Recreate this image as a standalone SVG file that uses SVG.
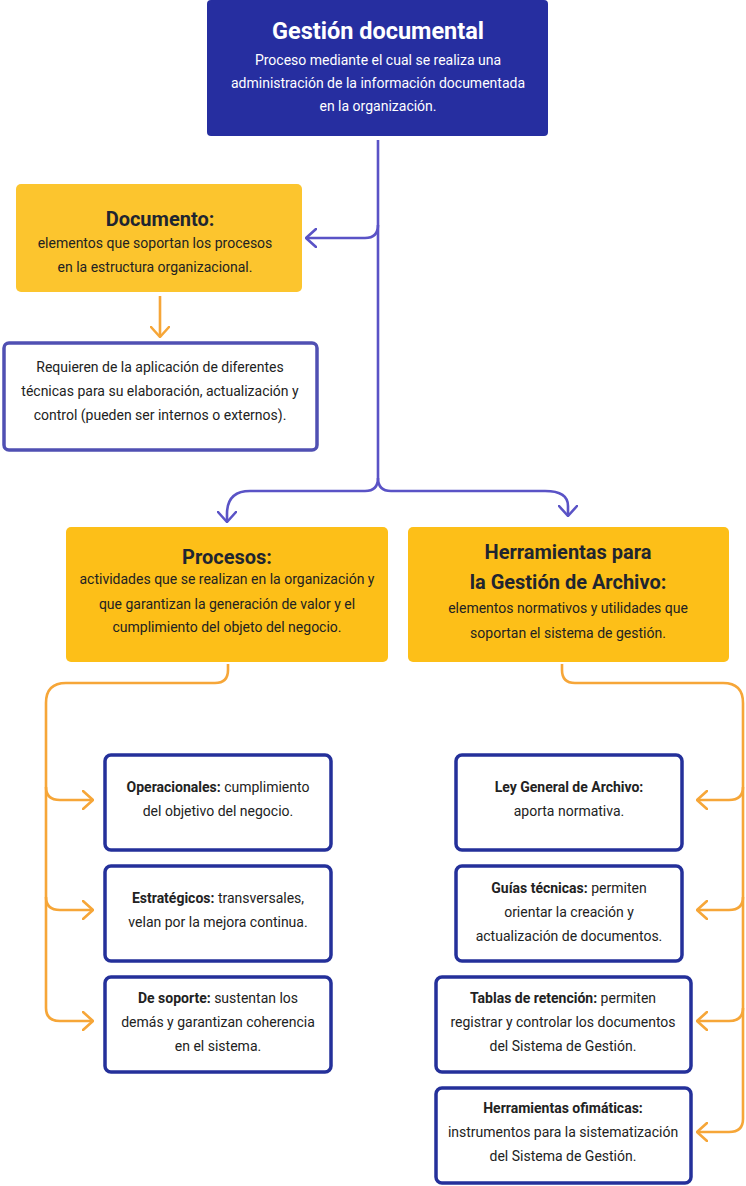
<svg xmlns="http://www.w3.org/2000/svg" width="746" height="1186" viewBox="0 0 746 1186">
<defs>
<marker id="ap" viewBox="0 0 12 20" refX="11" refY="10" markerWidth="12" markerHeight="20" markerUnits="userSpaceOnUse" orient="auto"><path d="M1,1 L11,10 L1,19" fill="none" stroke="#5a53c6" stroke-width="2.6" stroke-linecap="round" stroke-linejoin="round"/></marker>
<marker id="ao" viewBox="0 0 12 20" refX="11" refY="10" markerWidth="12" markerHeight="20" markerUnits="userSpaceOnUse" orient="auto"><path d="M1,1 L11,10 L1,19" fill="none" stroke="#f6a638" stroke-width="2.6" stroke-linecap="round" stroke-linejoin="round"/></marker>
</defs>
<style>
text{font-family:Roboto,"Liberation Sans",sans-serif;text-anchor:middle}
.t{font-size:14px;fill:#222}
.w{font-size:14px;fill:#fff}
.h{font-size:20px;font-weight:bold;fill:#1f2530}
.b{font-weight:bold}
.yel{fill:#fcc52e}
.yel2{fill:#fdbf18}
.box{fill:#fff;stroke:#24309a;stroke-width:3.5}
.cp{fill:none;stroke:#5a53c6;stroke-width:2.6}
.co{fill:none;stroke:#f6a638;stroke-width:2.6}
</style>
<rect width="746" height="1186" fill="#fff"/>
<g id="connectors">
<path class="cp" d="M378,140 V225 Q378,238 365,238 H306" marker-end="url(#ap)"/>
<path class="cp" d="M378,225 V478 Q378,491 365,491 H250 Q227,491 227,514 V522" marker-end="url(#ap)"/>
<path class="cp" d="M378,478 Q378,491 391,491 H545 Q568,491 568,506 V516" marker-end="url(#ap)"/>
<path class="co" d="M160,296 V337" marker-end="url(#ao)"/>
<path class="co" d="M228,664 V670 Q228,683 215,683 H66 Q46,683 46,703 V1008 Q46,1021 60,1021 H93" marker-end="url(#ao)"/>
<path class="co" d="M46,787 Q46,800 60,800 H93" marker-end="url(#ao)"/>
<path class="co" d="M46,897 Q46,910 60,910 H93" marker-end="url(#ao)"/>
<path class="co" d="M562,664 V670 Q562,683 575,683 H723 Q743,683 743,703 V1119 Q743,1132 729,1132 H697" marker-end="url(#ao)"/>
<path class="co" d="M743,787 Q743,800 729,800 H697" marker-end="url(#ao)"/>
<path class="co" d="M743,897 Q743,910 729,910 H697" marker-end="url(#ao)"/>
<path class="co" d="M743,1008 Q743,1021 729,1021 H697" marker-end="url(#ao)"/>
</g>
<g id="gestion">
<rect x="207" y="0" width="341" height="136" rx="4" fill="#262ea0"/>
<text x="378" y="39" style="font-size:23.5px;font-weight:bold;fill:#fff">Gestión documental</text>
<text class="w" x="378" y="65">Proceso mediante el cual se realiza una</text>
<text class="w" x="378" y="88">administración de la información documentada</text>
<text class="w" x="378" y="111">en la organización.</text>
</g>
<g id="documento">
<rect class="yel" x="16" y="184" width="286" height="108" rx="5"/>
<text class="h" x="160" y="226">Documento:</text>
<text class="t" x="155" y="248">elementos que soportan los procesos</text>
<text class="t" x="155" y="272">en la estructura organizacional.</text>
</g>
<g id="requieren">
<rect x="4" y="343" width="313" height="107" rx="5" fill="#fff" stroke="#5050b3" stroke-width="3.5"/>
<text class="t" x="160" y="372">Requieren de la aplicación de diferentes</text>
<text class="t" x="160" y="396">técnicas para su elaboración, actualización y</text>
<text class="t" x="160" y="420">control (pueden ser internos o externos).</text>
</g>
<g id="procesos">
<rect class="yel2" x="66" y="527" width="322" height="135" rx="5"/>
<text class="h" x="227" y="564">Procesos:</text>
<text class="t" x="227" y="584">actividades que se realizan en la organización y</text>
<text class="t" x="227" y="609">que garantizan la generación de valor y el</text>
<text class="t" x="227" y="632">cumplimiento del objeto del negocio.</text>
</g>
<g id="herramientas">
<rect class="yel2" x="408" y="527" width="321" height="135" rx="5"/>
<text class="h" x="568" y="559">Herramientas para</text>
<text class="h" x="568" y="589">la Gestión de Archivo:</text>
<text class="t" x="568" y="613">elementos normativos y utilidades que</text>
<text class="t" x="568" y="638">soportan el sistema de gestión.</text>
</g>
<g id="operacionales">
<rect class="box" x="105" y="755" width="226" height="95" rx="6"/>
<text class="t" x="218" y="792"><tspan class="b">Operacionales:</tspan> cumplimiento</text>
<text class="t" x="218" y="816">del objetivo del negocio.</text>
</g>
<g id="estrategicos">
<rect class="box" x="105" y="866" width="226" height="95" rx="6"/>
<text class="t" x="218" y="903"><tspan class="b">Estratégicos:</tspan> transversales,</text>
<text class="t" x="218" y="927">velan por la mejora continua.</text>
</g>
<g id="soporte">
<rect class="box" x="105" y="977" width="226" height="95" rx="6"/>
<text class="t" x="218" y="1003"><tspan class="b">De soporte:</tspan> sustentan los</text>
<text class="t" x="218" y="1027">demás y garantizan coherencia</text>
<text class="t" x="218" y="1051">en el sistema.</text>
</g>
<g id="ley">
<rect class="box" x="456" y="755" width="226" height="95" rx="6"/>
<text class="t" x="569" y="792"><tspan class="b">Ley General de Archivo:</tspan></text>
<text class="t" x="569" y="816">aporta normativa.</text>
</g>
<g id="guias">
<rect class="box" x="456" y="866" width="226" height="95" rx="6"/>
<text class="t" x="569" y="893"><tspan class="b">Guías técnicas:</tspan> permiten</text>
<text class="t" x="569" y="917">orientar la creación y</text>
<text class="t" x="569" y="941">actualización de documentos.</text>
</g>
<g id="tablas">
<rect class="box" x="436" y="977" width="255" height="95" rx="6"/>
<text class="t" x="563" y="1003"><tspan class="b">Tablas de retención:</tspan> permiten</text>
<text class="t" x="563" y="1027">registrar y controlar los documentos</text>
<text class="t" x="563" y="1051">del Sistema de Gestión.</text>
</g>
<g id="ofimaticas">
<rect class="box" x="436" y="1088" width="255" height="95" rx="6"/>
<text class="t" x="563" y="1113"><tspan class="b">Herramientas ofimáticas:</tspan></text>
<text class="t" x="563" y="1137">instrumentos para la sistematización</text>
<text class="t" x="563" y="1161">del Sistema de Gestión.</text>
</g>
</svg>
